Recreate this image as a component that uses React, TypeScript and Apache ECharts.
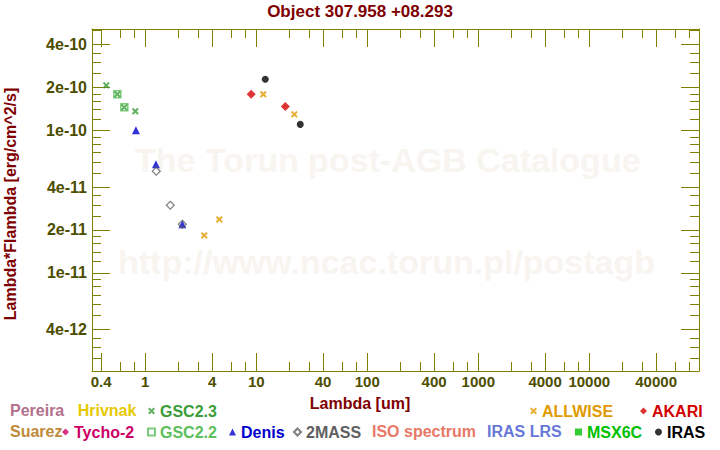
import React, { useEffect, useRef } from "react";
import * as echarts from "echarts";

// ---------- texts ----------
const titleText = "Object 307.958 +08.293";
const xAxisTitle = "Lambda [um]";
const yAxisTitle = "Lambda*Flambda [erg/cm^2/s]";
const watermarkTitle = "The Torun post-AGB Catalogue";
const watermarkUrl = "http://www.ncac.torun.pl/postagb";

// ---------- axis ranges & ticks ----------
const xRange = [0.3311, 97340];
const yRange = [2.046e-12, 5.139e-10];

const xMajorTicks = [0.4, 1, 4, 10, 40, 100, 400, 1000, 4000, 10000, 40000];
const xMinorTicks = [
  0.6, 0.8, 2, 3, 6, 8, 20, 30, 60, 80, 200, 300, 600, 800, 2000, 3000, 6000, 8000,
  20000, 30000, 60000, 80000,
];
const yMajorTicks = [4e-12, 1e-11, 2e-11, 4e-11, 1e-10, 2e-10, 4e-10];
const yMinorTicks = [
  2.5e-12, 3e-12, 3.5e-12, 5e-12, 6e-12, 7e-12, 8e-12, 9e-12,
  1.2e-11, 1.4e-11, 1.6e-11, 1.8e-11, 2.5e-11, 3e-11, 3.5e-11, 5e-11, 6e-11, 7e-11, 8e-11, 9e-11,
  1.2e-10, 1.4e-10, 1.6e-10, 1.8e-10, 2.5e-10, 3e-10, 3.5e-10, 5e-10,
];

// ---------- photometry (lambda [um], lambda*F_lambda [erg/cm^2/s]) ----------
const gsc23Lambda = [0.445, 0.56, 0.647, 0.813];
const gsc23Flux = [2.07e-10, 1.79e-10, 1.45e-10, 1.36e-10];

const gsc22Lambda = [0.56, 0.647];
const gsc22Flux = [1.79e-10, 1.45e-10];

const denisLambda = [0.824, 1.248, 2.155];
const denisFlux = [1.0e-10, 5.77e-11, 2.19e-11];

const twoMassLambda = [1.256, 1.68, 2.155];
const twoMassFlux = [5.16e-11, 2.98e-11, 2.19e-11];

const allwiseLambda = [3.4, 4.64, 11.56, 22.0];
const allwiseFlux = [1.83e-11, 2.37e-11, 1.79e-10, 1.295e-10];

const akariLambda = [9.0, 18.25];
const akariFlux = [1.79e-10, 1.47e-10];

const irasLambda = [12.05, 24.9];
const irasFlux = [2.28e-10, 1.1e-10];

const tychoLambda: number[] = [];
const tychoFlux: number[] = [];
const msxLambda: number[] = [];
const msxFlux: number[] = [];

// ---------- styling ----------
const FONT = '"Liberation Sans", Arial, Helvetica, sans-serif';
const AXIS_COLOR = "#808000";
const LABEL_COLOR = "#4d4d00";
const TITLE_COLOR = "#800000";
const CROSS = "path://M0,2L2,0L5,3L8,0L10,2L7,5L10,8L8,10L5,7L2,10L0,8L3,5Z";

const lg = (v: number) => Math.log10(v);
const pts = (xs: number[], ys: number[]) => xs.map((x, i) => [lg(x), lg(ys[i])]);

const fmtX = (v: number) => String(Number(Math.pow(10, v).toPrecision(6)));
const fmtY = (v: number) => Math.pow(10, v).toExponential(0);

function xAxisDef(position: string, values: number[], length: number, line: boolean, labels: boolean) {
  return {
    type: "value",
    position,
    min: lg(xRange[0]),
    max: lg(xRange[1]),
    axisLine: { show: line, onZero: false, lineStyle: { color: AXIS_COLOR, width: 1 } },
    axisTick: {
      show: true,
      inside: true,
      length,
      customValues: values.map(lg),
      lineStyle: { color: AXIS_COLOR, width: 1 },
    },
    axisLabel: labels
      ? {
          show: true,
          customValues: values.map(lg),
          formatter: fmtX,
          margin: 3,
          fontSize: 15,
          fontWeight: "bold",
          fontFamily: FONT,
          color: LABEL_COLOR,
        }
      : { show: false },
    splitLine: { show: false },
  };
}

function yAxisDef(position: string, values: number[], length: number, line: boolean, labels: boolean) {
  return {
    type: "value",
    position,
    min: lg(yRange[0]),
    max: lg(yRange[1]),
    axisLine: { show: line, onZero: false, lineStyle: { color: AXIS_COLOR, width: 1 } },
    axisTick: {
      show: true,
      inside: true,
      length,
      customValues: values.map(lg),
      lineStyle: { color: AXIS_COLOR, width: 1 },
    },
    axisLabel: labels
      ? {
          show: true,
          customValues: values.map(lg),
          formatter: fmtY,
          margin: 5,
          fontSize: 16,
          fontWeight: "bold",
          fontFamily: FONT,
          color: LABEL_COLOR,
        }
      : { show: false },
    splitLine: { show: false },
  };
}

function legendDef(name: string, left: number, top: number, color: string) {
  return {
    show: true,
    data: [{ name }],
    left,
    top,
    padding: 0,
    itemWidth: 7,
    itemHeight: 7,
    itemGap: 0,
    selectedMode: false,
    textStyle: { fontSize: 16, fontWeight: "bold", fontFamily: FONT, color },
  };
}

function plainLegendText(text: string, x: number, y: number, color: string) {
  return {
    type: "text",
    x,
    y,
    silent: true,
    style: {
      text,
      fill: color,
      font: `bold 16px ${FONT}`,
      align: "left",
      verticalAlign: "middle",
    },
  };
}

function scatter(name: string, data: number[][], symbol: string, size: number, itemStyle: any) {
  return {
    type: "scatter",
    name,
    data,
    symbol,
    symbolSize: size,
    itemStyle,
    silent: true,
    xAxisIndex: 0,
    yAxisIndex: 0,
    z: 3,
  };
}

export default function App() {
  const ref = useRef<HTMLDivElement>(null);

  useEffect(() => {
    if (!ref.current) return;
    const chart = echarts.init(ref.current, undefined, { renderer: "svg" });

    const row1 = 403;
    const row2 = 424;

    const option: any = {
      animation: false,
      backgroundColor: "#ffffff",
      title: {
        text: titleText,
        left: "center",
        top: 3,
        padding: 0,
        textStyle: { fontSize: 17, fontWeight: "bold", fontFamily: FONT, color: TITLE_COLOR },
      },
      grid: { left: 92, right: 21, top: 29, bottom: 79, containLabel: false },
      xAxis: [
        xAxisDef("bottom", xMajorTicks, 18, true, true),
        xAxisDef("bottom", xMinorTicks, 9, false, false),
        xAxisDef("top", xMajorTicks, 18, true, false),
        xAxisDef("top", xMinorTicks, 9, false, false),
      ],
      yAxis: [
        yAxisDef("left", yMajorTicks, 18, true, true),
        yAxisDef("left", yMinorTicks, 9, false, false),
        yAxisDef("right", yMajorTicks, 18, true, false),
        yAxisDef("right", yMinorTicks, 9, false, false),
      ],
      legend: [
        legendDef("GSC2.3", 148, row1, "#3a9d3a"),
        legendDef("ALLWISE", 530, row1, "#e09a00"),
        legendDef("AKARI", 640, row1, "#d40000"),
        legendDef("Tycho-2", 62, row2, "#cc0066"),
        legendDef("GSC2.2", 147, row2, "#5cbf5c"),
        legendDef("Denis", 229, row2, "#0000cc"),
        legendDef("2MASS", 293, row2, "#606060"),
        legendDef("MSX6C", 575, row2, "#00c000"),
        legendDef("IRAS", 655, row2, "#000000"),
      ],
      graphic: [
        {
          type: "text",
          x: 135,
          y: 160,
          z: -10,
          silent: true,
          style: {
            text: watermarkTitle,
            fill: "#f8f5f0",
            font: `bold 34px ${FONT}`,
            align: "left",
            verticalAlign: "middle",
          },
        },
        {
          type: "text",
          x: 118,
          y: 262,
          z: -10,
          silent: true,
          style: {
            text: watermarkUrl,
            fill: "#f8f5f0",
            font: `bold 34px ${FONT}`,
            align: "left",
            verticalAlign: "middle",
          },
        },
        {
          type: "text",
          x: 360,
          y: 403,
          silent: true,
          style: {
            text: xAxisTitle,
            fill: TITLE_COLOR,
            font: `bold 16px ${FONT}`,
            align: "center",
            verticalAlign: "middle",
          },
        },
        {
          type: "text",
          x: 10,
          y: 204,
          rotation: Math.PI / 2,
          silent: true,
          style: {
            text: yAxisTitle,
            fill: TITLE_COLOR,
            font: `bold 16px ${FONT}`,
            align: "center",
            verticalAlign: "middle",
          },
        },
        plainLegendText("Pereira", 10, 410.7, "#b4708e"),
        plainLegendText("Hrivnak", 77.7, 410.7, "#e6c800"),
        plainLegendText("Suarez", 10, 431.7, "#c08a3c"),
        plainLegendText("ISO spectrum", 372, 431.7, "#e87868"),
        plainLegendText("IRAS LRS", 487, 431.7, "#6878d8"),
      ],
      series: [
        scatter("Tycho-2", pts(tychoLambda, tychoFlux), "diamond", 8, { color: "#cc0066" }),
        scatter("MSX6C", pts(msxLambda, msxFlux), "rect", 7, { color: "#00c000" }),
        scatter("GSC2.2", pts(gsc22Lambda, gsc22Flux), "rect", 7, {
          color: "rgba(255,255,255,0)",
          borderColor: "#5cbf5c",
          borderWidth: 1.5,
        }),
        scatter("GSC2.3", pts(gsc23Lambda, gsc23Flux), CROSS, 7, { color: "#3a9d3a" }),
        scatter("Denis", pts(denisLambda, denisFlux), "triangle", 8, { color: "#0000cc" }),
        scatter("2MASS", pts(twoMassLambda, twoMassFlux), "diamond", 8, {
          color: "rgba(255,255,255,0)",
          borderColor: "#606060",
          borderWidth: 1.2,
        }),
        scatter("ALLWISE", pts(allwiseLambda, allwiseFlux), CROSS, 7, { color: "#e09a00" }),
        scatter("AKARI", pts(akariLambda, akariFlux), "diamond", 9, { color: "#d40000" }),
        scatter("IRAS", pts(irasLambda, irasFlux), "circle", 7, { color: "#000000" }),
      ],
    };

    chart.setOption(option);
    return () => chart.dispose();
  }, []);

  return (
    <div
      ref={ref}
      style={{ position: "absolute", left: 0, top: 0, width: 720, height: 450 }}
    />
  );
}
